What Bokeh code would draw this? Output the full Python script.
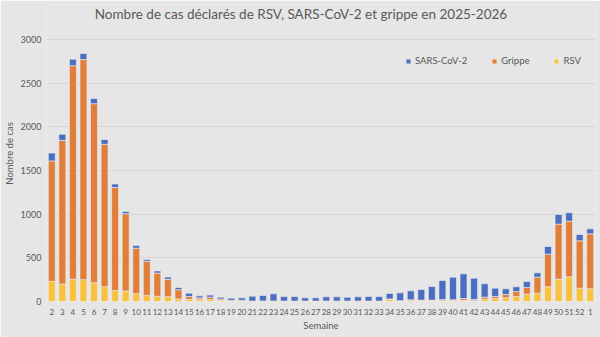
from bokeh.plotting import figure
from bokeh.models import (ColumnDataSource, FactorRange, Range1d, Legend, LegendItem,
                          NumeralTickFormatter, Label)
from bokeh.embed import file_html
from bokeh.resources import INLINE

weeks = [str(w) for w in range(2, 53)] + ["1"]
rsv = [230, 200, 255, 250, 215, 170, 125, 120, 90, 70, 60, 55, 30, 23, 22, 23, 15, 5, 5, 3,
       3, 3, 3, 3, 3, 3, 3, 3, 3, 3, 3, 3, 25, 5, 10, 8, 8, 10, 10, 14, 10, 27, 34, 42,
       57, 84, 95, 168, 256, 283, 153, 145]
grippe = [1380, 1645, 2445, 2520, 2050, 1630, 1180, 885, 520, 390, 265, 200, 105, 34, 20, 27,
          15, 8, 10, 3, 3, 3, 2, 2, 2, 2, 2, 2, 2, 2, 2, 2, 5, 5, 10, 8, 8, 12, 10, 20, 13,
          23, 23, 38, 58, 76, 184, 374, 630, 637, 542, 630]
sars = [90, 70, 75, 70, 60, 55, 40, 25, 30, 20, 25, 25, 25, 38, 23, 23, 20, 25, 27, 55, 63,
        82, 52, 52, 37, 37, 48, 48, 44, 48, 52, 52, 62, 89, 102, 121, 156, 219, 259, 283,
        244, 153, 96, 65, 53, 69, 49, 88, 111, 96, 72, 57]
series = ["rsv", "grippe", "sars"]
labels = ["RSV", "Grippe", "SARS-CoV-2"]
y_ticks = [0, 500, 1000, 1500, 2000, 2500, 3000]
title_text = "Nombre de cas déclarés de RSV, SARS-CoV-2 et grippe en 2025-2026"
colors = ["#F8C13F", "#E07E3C", "#4A6EC0"]
FONT = "Lato"

source = ColumnDataSource(data=dict(weeks=weeks, rsv=rsv, grippe=grippe, sars=sars))

p = figure(x_range=FactorRange(*weeks, range_padding=0), y_range=Range1d(0, 3389),
           width=600, height=337, output_backend="svg", toolbar_location=None,
           min_border_left=45, min_border_right=5, min_border_top=5, min_border_bottom=36)
p.background_fill_color = "#e6e6e6"
p.border_fill_color = "#e6e6e6"
p.outline_line_color = None

renderers = p.vbar_stack(series, x="weeks", width=0.66, color=colors, source=source,
                         line_color="#f0f0f0", line_width=0.6)

title = Label(x=24.1, y=3286, text=title_text, text_align="center", text_baseline="middle",
              text_font=FONT, text_font_size="13.5px", text_color="#595959")
p.add_layout(title)

p.xgrid.grid_line_color = None
p.ygrid.grid_line_color = "#d6d6d6"
p.ygrid.grid_line_width = 1

for ax in (p.xaxis[0], p.yaxis[0]):
    ax.axis_line_color = None
    ax.major_tick_line_color = None
    ax.minor_tick_line_color = None
    ax.major_tick_in = 0
    ax.major_tick_out = 0
    ax.minor_tick_in = 0
    ax.minor_tick_out = 0
    ax.major_label_text_color = "#595959"
    ax.major_label_text_font = FONT
    ax.axis_label_text_color = "#595959"
    ax.axis_label_text_font = FONT
    ax.axis_label_text_font_size = "9.5px"
    ax.axis_label_text_font_style = "normal"

p.xaxis.major_label_text_font_size = "8px"
p.yaxis.major_label_text_font_size = "9px"
p.yaxis.ticker = y_ticks
p.yaxis.formatter = NumeralTickFormatter(format="0")
p.yaxis.axis_label = "Nombre de cas"
p.yaxis.axis_label_standoff = 3
p.yaxis.major_label_standoff = 5
p.xaxis.axis_label = "Semaine"
p.xaxis.axis_label_standoff = 2
p.xaxis.major_label_standoff = 7

legend = Legend(items=[LegendItem(label=labels[2], renderers=[renderers[2]]),
                       LegendItem(label=labels[1], renderers=[renderers[1]]),
                       LegendItem(label=labels[0], renderers=[renderers[0]])],
                orientation="horizontal", location=(359, 235))
legend.background_fill_alpha = 0
legend.border_line_color = None
legend.glyph_width = 6
legend.glyph_height = 6
legend.label_text_font = FONT
legend.label_text_font_size = "9.5px"
legend.label_text_color = "#595959"
legend.spacing = 24
legend.label_standoff = 4
p.add_layout(legend, "center")

open("out.html", "w").write(file_html(p, INLINE))
